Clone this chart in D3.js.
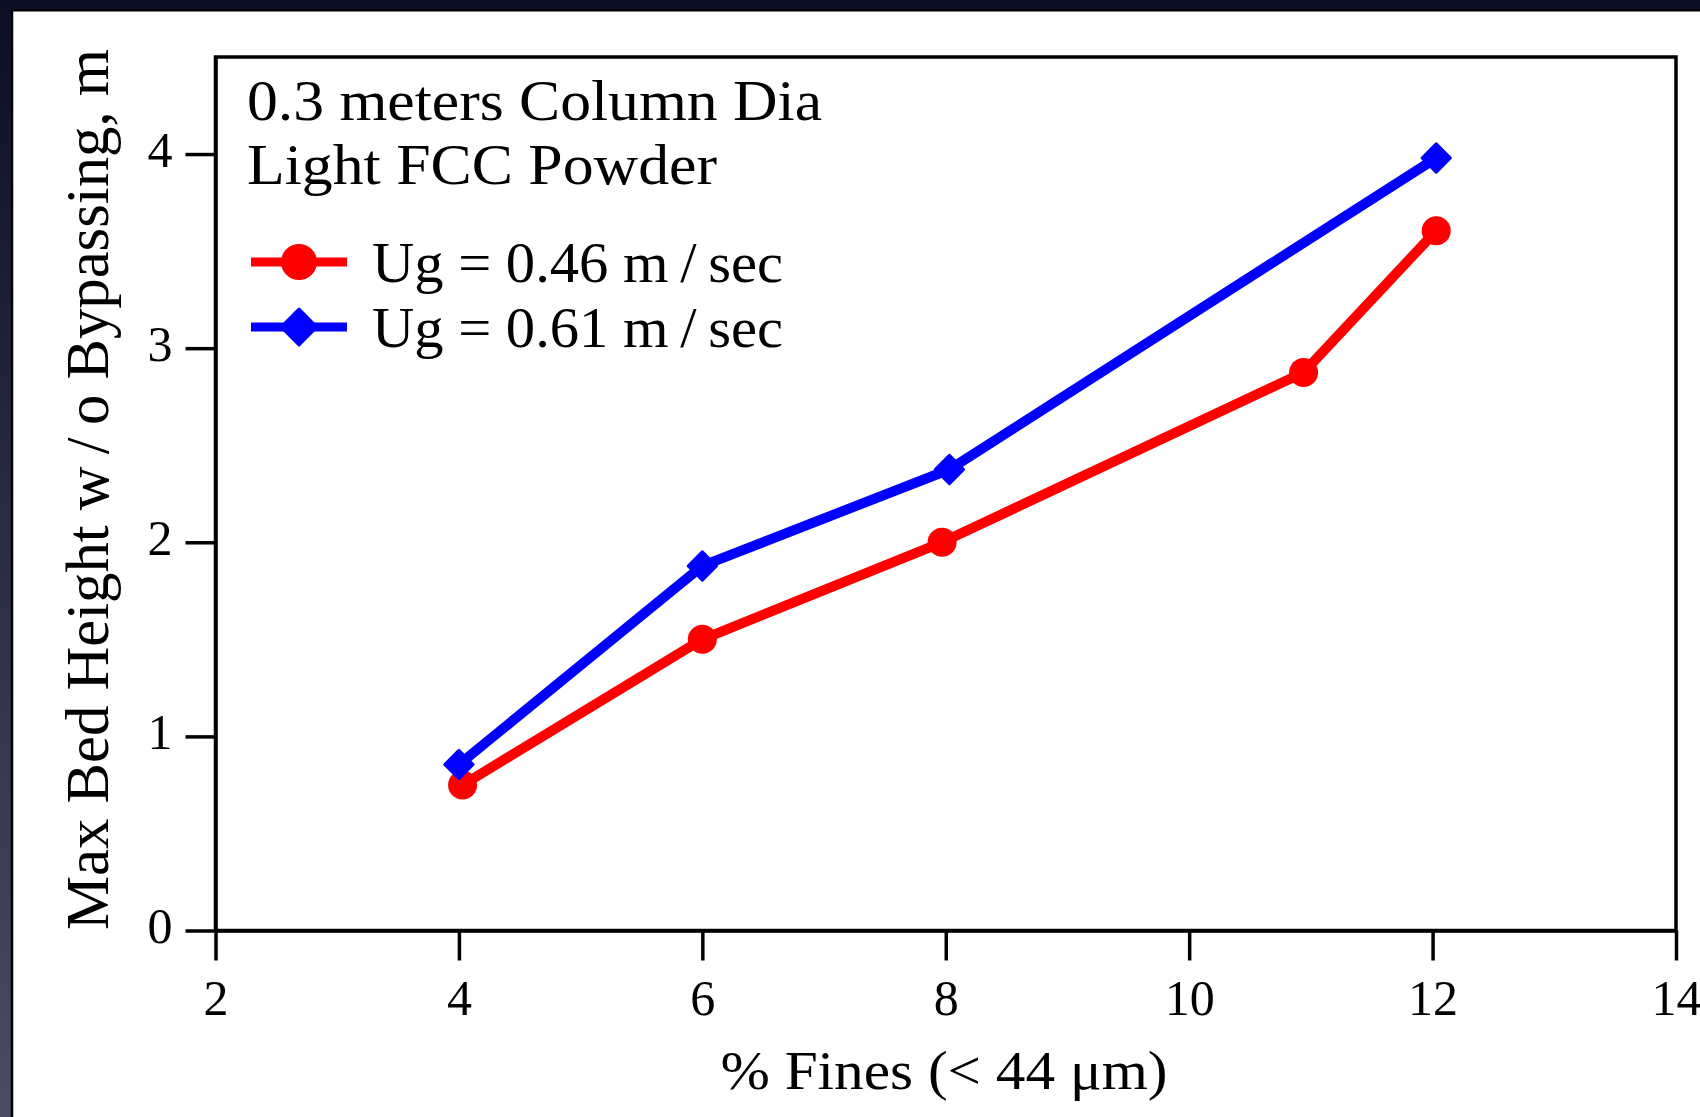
<!DOCTYPE html>
<html>
<head>
<meta charset="utf-8">
<script src="https://cdn.jsdelivr.net/npm/d3@7"></script>
<style>
  html, body { margin: 0; padding: 0; background: #ffffff; }
  svg { display: block; }
  text { font-family: "Palatino Linotype", Palatino, "Book Antiqua", "Liberation Serif", "Times New Roman", serif; fill: #000; }
</style>
</head>
<body>
<svg id="chart" width="1700" height="1117"></svg>
<script>
// ---- data ----
const xTicks = [2, 4, 6, 8, 10, 12, 14];
const yTicks = [0, 1, 2, 3, 4];
const redX  = [4.03, 6.0, 7.97, 10.94, 12.03];
const redY  = [0.75, 1.50, 2.0, 2.875, 3.605];
const blueX = [4.0, 6.0, 8.03, 12.03];
const blueY = [0.855, 1.878, 2.375, 3.98];
const seriesNames = ["Ug = 0.46 m\u2009/\u2009sec", "Ug = 0.61 m\u2009/\u2009sec"];
const annotation = ["0.3 meters Column Dia", "Light FCC Powder"];
const xTitle = "% Fines (< 44 \u03BCm)";
const yTitle = "Max Bed Height w\u2009/\u2009o Bypassing, m";

// ---- setup ----
const svg = d3.select("#chart");
const W = 1700, H = 1117;
const plot = { left: 215.5, right: 1676, top: 57, bottom: 930.5 };

const x = d3.scaleLinear().domain([2, 14]).range([plot.left, plot.right]);
const y = d3.scaleLinear().domain([0, 4.5]).range([plot.bottom, plot.top]);

// dark photo frame (top and left)
const defs = svg.append("defs");
const lg = defs.append("linearGradient").attr("id", "leftband").attr("x1", 0).attr("y1", 0).attr("x2", 0).attr("y2", 1);
lg.append("stop").attr("offset", "0%").attr("stop-color", "#0c0f24");
lg.append("stop").attr("offset", "100%").attr("stop-color", "#4b4c63");
svg.append("rect").attr("x", 0).attr("y", 0).attr("width", W).attr("height", H).attr("fill", "#ffffff");
svg.append("rect").attr("x", 0).attr("y", 0).attr("width", W).attr("height", 11).attr("fill", "#0c0f24");
svg.append("rect").attr("x", 0).attr("y", 0).attr("width", 13).attr("height", H).attr("fill", "url(#leftband)");
svg.append("line").attr("x1", 12).attr("x2", 12).attr("y1", 10).attr("y2", H).attr("stroke", "#000").attr("stroke-width", 2.5);
svg.append("line").attr("x1", 11).attr("x2", W).attr("y1", 10.5).attr("y2", 10.5).attr("stroke", "#000").attr("stroke-width", 2);

// plot frame
svg.append("rect")
  .attr("x", plot.left).attr("y", plot.top)
  .attr("width", plot.right - plot.left).attr("height", plot.bottom - plot.top)
  .attr("fill", "none").attr("stroke", "#000").attr("stroke-width", 3.5);

// axes
const xAxis = d3.axisBottom(x).tickValues(xTicks).tickFormat(d3.format("d"))
  .tickSize(30).tickPadding(19).tickSizeOuter(0);
const yAxis = d3.axisLeft(y).tickValues(yTicks).tickFormat(d3.format("d"))
  .tickSize(30).tickPadding(13).tickSizeOuter(0);

const gx = svg.append("g").attr("transform", `translate(0,${plot.bottom})`).call(xAxis);
const gy = svg.append("g").attr("transform", `translate(${plot.left},0)`).call(yAxis);
[gx, gy].forEach(g => {
  g.select(".domain").attr("stroke", "#000").attr("stroke-width", 3.5);
  g.selectAll(".tick line").attr("stroke", "#000").attr("stroke-width", 3.5);
  g.selectAll(".tick text").attr("font-size", 50).attr("fill", "#000")
    .style("font-family", '"Palatino Linotype", Palatino, "Book Antiqua", "Liberation Serif", serif');
});
gy.selectAll(".tick text").attr("dy", "0.24em");

// axis titles
svg.append("text")
  .attr("x", 944).attr("y", 1089)
  .attr("text-anchor", "middle")
  .attr("font-size", 54)
  .attr("textLength", 447).attr("lengthAdjust", "spacingAndGlyphs")
  .text(xTitle);

svg.append("text")
  .attr("transform", "translate(108,489.5) rotate(-90)")
  .attr("text-anchor", "middle")
  .attr("font-size", 62)
  .attr("textLength", 881).attr("lengthAdjust", "spacingAndGlyphs")
  .text(yTitle);

// series
const series = [
  { name: seriesNames[0], xs: redX, ys: redY, color: "#ff0000", shape: "circle" },
  { name: seriesNames[1], xs: blueX, ys: blueY, color: "#0000ff", shape: "diamond" }
];
const line = d3.line().x(d => x(d[0])).y(d => y(d[1]));
const diamond = d3.symbol().type(d3.symbolSquare);

series.forEach(s => {
  const pts = s.xs.map((v, i) => [v, s.ys[i]]);
  const g = svg.append("g");
  g.append("path").datum(pts).attr("d", line)
    .attr("fill", "none").attr("stroke", s.color).attr("stroke-width", 10)
    .attr("stroke-linejoin", "round").attr("stroke-linecap", "butt");
  if (s.shape === "circle") {
    g.selectAll("circle").data(pts).join("circle")
      .attr("cx", d => x(d[0])).attr("cy", d => y(d[1])).attr("r", 14.5)
      .attr("fill", s.color);
  } else {
    g.selectAll("path.m").data(pts).join("path").attr("class", "m")
      .attr("d", diamond.size(400)())
      .attr("transform", d => `translate(${x(d[0])},${y(d[1])}) rotate(45)`)
      .attr("fill", s.color).attr("stroke", s.color).attr("stroke-width", 3)
      .attr("stroke-linejoin", "round");
  }
});

// annotation + legend
svg.append("text").attr("x", 247).attr("y", 120).attr("font-size", 56)
  .attr("textLength", 575).attr("lengthAdjust", "spacingAndGlyphs").text(annotation[0]);
svg.append("text").attr("x", 247).attr("y", 184).attr("font-size", 56)
  .attr("textLength", 470).attr("lengthAdjust", "spacingAndGlyphs").text(annotation[1]);

const legendY = [262, 327];
const legendBase = [282, 347];
series.forEach((s, i) => {
  const g = svg.append("g");
  g.append("line").attr("x1", 251).attr("x2", 347).attr("y1", legendY[i]).attr("y2", legendY[i])
    .attr("stroke", s.color).attr("stroke-width", 9);
  if (s.shape === "circle") {
    g.append("circle").attr("cx", 299).attr("cy", legendY[i]).attr("r", 18).attr("fill", s.color);
  } else {
    g.append("path").attr("d", diamond.size(640)())
      .attr("transform", `translate(299,${legendY[i]}) rotate(45)`)
      .attr("fill", s.color).attr("stroke", s.color).attr("stroke-width", 3).attr("stroke-linejoin", "round");
  }
  g.append("text").attr("x", 372).attr("y", legendBase[i]).attr("font-size", 56)
    .attr("textLength", 411).attr("lengthAdjust", "spacingAndGlyphs").text(s.name);
});
</script>
</body>
</html>
